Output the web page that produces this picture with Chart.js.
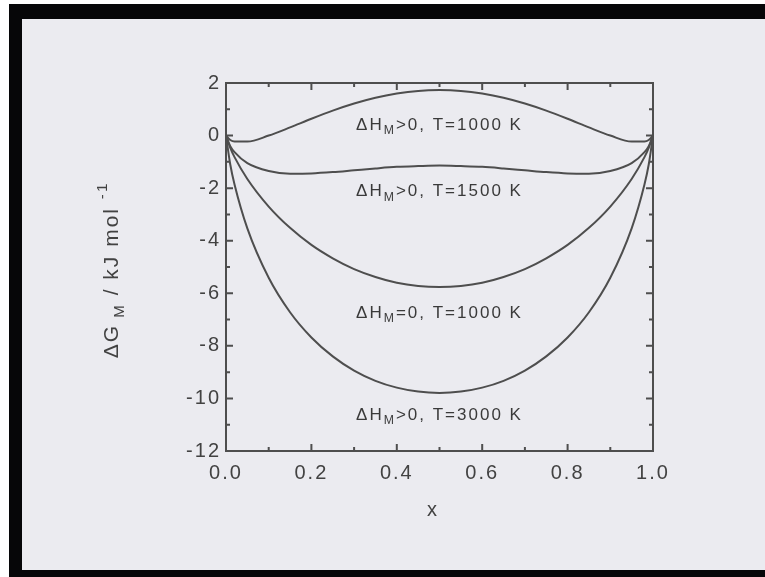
<!DOCTYPE html>
<html>
<head>
<meta charset="utf-8">
<script src="https://cdn.jsdelivr.net/npm/chart.js@4/dist/chart.umd.min.js"></script>
<style>
  body { margin: 0; background: #fff; }
  canvas { display: block; }
</style>
</head>
<body>
<canvas id="canvas" width="765" height="577"></canvas>
<script>
// mole fraction x
const xs = [0, 0.01, 0.02, 0.05, 0.1, 0.15, 0.2, 0.25, 0.3, 0.35, 0.4, 0.45, 0.5,
    0.55, 0.6, 0.65, 0.7, 0.75, 0.8, 0.85, 0.9, 0.95, 0.98, 0.99, 1];

// ΔG_M in kJ/mol
const dgPos1000 = [0, -0.17, -0.23, -0.23, 0.0, 0.31, 0.64, 0.95, 1.22, 1.44, 1.6, 1.7, 1.73,
    1.7, 1.6, 1.44, 1.22, 0.95, 0.64, 0.31, 0.0, -0.23, -0.23, -0.17, 0];
const dgPos1500 = [0, -0.4, -0.63, -1.05, -1.35, -1.45, -1.44, -1.39, -1.32, -1.25, -1.19, -1.16, -1.14,
    -1.16, -1.19, -1.25, -1.32, -1.39, -1.44, -1.45, -1.35, -1.05, -0.63, -0.4, 0];
const dgIdeal1000 = [0, -0.47, -0.82, -1.65, -2.7, -3.51, -4.16, -4.67, -5.08, -5.38, -5.6, -5.72, -5.76,
    -5.72, -5.6, -5.38, -5.08, -4.67, -4.16, -3.51, -2.7, -1.65, -0.82, -0.47, 0];
const dgPos3000 = [0, -1.1, -1.86, -3.53, -5.41, -6.72, -7.68, -8.4, -8.94, -9.33, -9.59, -9.74, -9.79,
    -9.74, -9.59, -9.33, -8.94, -8.4, -7.68, -6.72, -5.41, -3.53, -1.86, -1.1, 0];

// curve labels: [text before subscript, subscript, rest, x, y]
const curveLabels = [
    ["ΔH", "M", ">0, T=1000 K", 0.5, 0.4],
    ["ΔH", "M", ">0, T=1500 K", 0.5, -2.13],
    ["ΔH", "M", "=0, T=1000 K", 0.5, -6.75],
    ["ΔH", "M", ">0, T=3000 K", 0.5, -10.63],
];

const lineColor = "#4e4e4e";
const textColor = "#424242";
const fontFamily = "'Liberation Sans', Arial, sans-serif";

function series(ys) {
    return xs.map((x, i) => ({ x: x, y: ys[i] }));
}

function drawPieces(ctx, pieces, x, y, size) {
    // pieces: [text, kind] kind = 0 normal, 1 sub, 2 sup
    let w = 0;
    pieces.forEach(p => {
        ctx.font = (p[1] ? size * 0.72 : size) + "px " + fontFamily;
        w += ctx.measureText(p[0]).width;
    });
    let cx = x - w / 2;
    pieces.forEach(p => {
        ctx.font = (p[1] ? size * 0.72 : size) + "px " + fontFamily;
        let dy = p[1] === 1 ? size * 0.35 : (p[1] === 2 ? -size * 0.45 : 0);
        ctx.fillText(p[0], cx, y + dy);
        cx += ctx.measureText(p[0]).width;
    });
}

const framePlugin = {
    id: "frame",
    beforeDraw(chart) {
        const ctx = chart.ctx;
        ctx.save();
        ctx.fillStyle = "#fff";
        ctx.fillRect(0, 0, 765, 577);
        ctx.fillStyle = "#060608";
        ctx.fillRect(9, 4, 756, 573);
        ctx.fillStyle = "#ebebf0";
        ctx.fillRect(22, 19, 743, 551);
        ctx.restore();
        // wide spacing for the tick labels
        ctx.letterSpacing = "2px";
    },
    afterDraw(chart) {
        const ctx = chart.ctx;
        const a = chart.chartArea;
        const sx = chart.scales.x, sy = chart.scales.y;
        ctx.save();
        ctx.strokeStyle = lineColor;
        ctx.lineWidth = 2;
        ctx.strokeRect(a.left, a.top, a.right - a.left, a.bottom - a.top);
        ctx.beginPath();
        for (let i = 0; i <= 10; i++) {
            const px = sx.getPixelForValue(i / 10);
            const len = i % 2 === 0 ? 7 : 4;
            ctx.moveTo(px, a.bottom); ctx.lineTo(px, a.bottom - len);
            ctx.moveTo(px, a.top); ctx.lineTo(px, a.top + len);
        }
        for (let v = -12; v <= 2; v++) {
            const py = sy.getPixelForValue(v);
            const len = v % 2 === 0 ? 7 : 4;
            ctx.moveTo(a.left, py); ctx.lineTo(a.left + len, py);
            ctx.moveTo(a.right, py); ctx.lineTo(a.right - len, py);
        }
        ctx.stroke();

        ctx.fillStyle = "#3a3a3a";
        ctx.textBaseline = "middle";
        ctx.textAlign = "left";
        ctx.letterSpacing = "2px";
        curveLabels.forEach(l => {
            drawPieces(ctx, [[l[0], 0], [l[1], 1], [l[2], 0]],
                sx.getPixelForValue(l[3]), sy.getPixelForValue(l[4]), 17);
        });

        // axis titles
        ctx.fillStyle = textColor;
        ctx.font = "20px " + fontFamily;
        ctx.textAlign = "center";
        ctx.fillText("x", 433, 510);
        ctx.textAlign = "left";
        ctx.translate(112, 270);
        ctx.rotate(-Math.PI / 2);
        drawPieces(ctx, [["ΔG", 0], [" M", 1], [" / kJ mol ", 0], ["-1", 2]], 0, 0, 21);
        ctx.restore();
        ctx.letterSpacing = "0px";
    },
};

function initGraph() {
    const context = document.getElementById("canvas");
    const ds = (data) => ({
        data: series(data),
        borderColor: lineColor,
        borderWidth: 2,
        pointRadius: 0,
        cubicInterpolationMode: "monotone",
        fill: false,
    });
    new Chart(context, {
        type: "line",
        data: {
            datasets: [ds(dgPos1000), ds(dgPos1500), ds(dgIdeal1000), ds(dgPos3000)],
        },
        options: {
            responsive: false,
            animation: false,
            layout: { padding: { top: 83, right: 112, left: 0, bottom: 0 } },
            plugins: { legend: { display: false }, tooltip: { enabled: false } },
            scales: {
                x: {
                    type: "linear",
                    min: 0,
                    max: 1,
                    afterFit: (scale) => { scale.height = 126; },
                    grid: { display: false, drawTicks: false },
                    border: { display: false },
                    ticks: {
                        stepSize: 0.2,
                        padding: 10,
                        color: textColor,
                        font: { family: fontFamily, size: 20 },
                        callback: (v) => v.toFixed(1),
                    },
                },
                y: {
                    min: -12,
                    max: 2,
                    afterFit: (scale) => { scale.width = 226; },
                    grid: { display: false, drawTicks: false },
                    border: { display: false },
                    ticks: {
                        stepSize: 2,
                        padding: 5,
                        color: textColor,
                        font: { family: fontFamily, size: 20 },
                    },
                },
            },
        },
        plugins: [framePlugin],
    });
}

initGraph();
</script>
</body>
</html>
